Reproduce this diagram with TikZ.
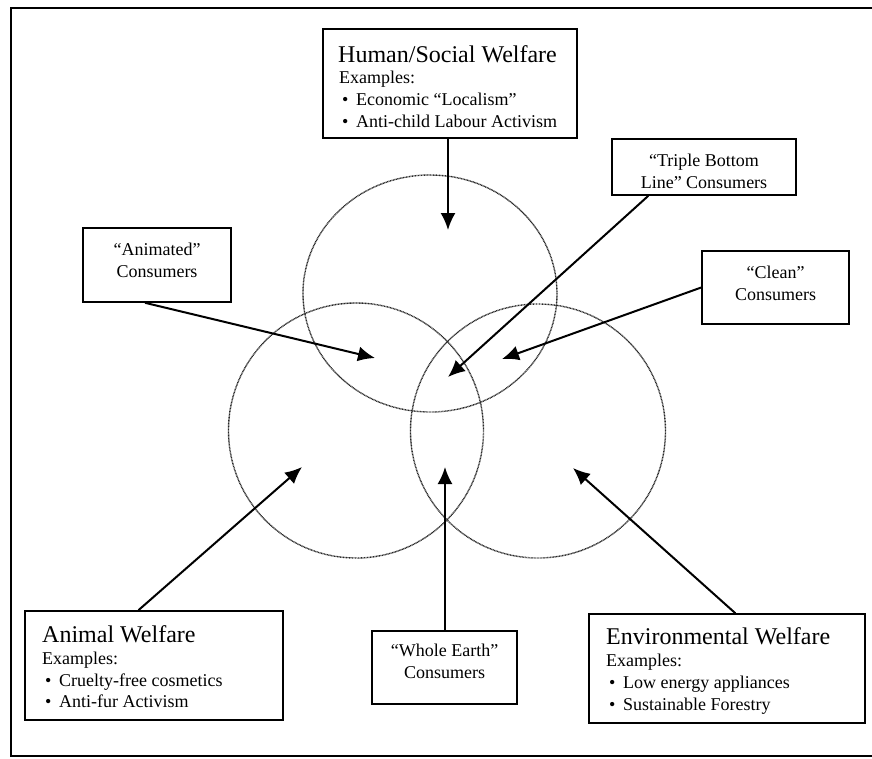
\documentclass[tikz,border=0pt]{standalone}
\usepackage{fontspec}
\setmainfont{Liberation Serif}
\usetikzlibrary{arrows.meta,calc}
\begin{document}
\begin{tikzpicture}[x=1pt,y=-1pt,
  frame/.style={line width=2pt},
  wbox/.style={draw,line width=1.6pt,inner sep=0pt},
  title/.style={anchor=base west,inner sep=0pt,font=\fontsize{24}{28}\selectfont},
  exl/.style={anchor=base west,inner sep=0pt,font=\fontsize{18}{22}\selectfont},
  ctext/.style={align=center,inner sep=0pt,font=\fontsize{18}{22}\selectfont},
  circ/.style={draw=black!85,line width=1.4pt,dash pattern=on 0.9pt off 0.6pt},
  arr/.style={line width=2pt,-{Latex[length=17pt,width=15pt]}}]
\useasboundingbox (0,0) rectangle (872,758);
% outer frame (right side cut off)
\draw[frame] (872,8) -- (11,8) -- (11,756) -- (872,756);

% circles
\draw[circ] (430,293.5) ellipse [x radius=127pt, y radius=118.5pt];
\draw[circ] (356,430.5) ellipse [x radius=127.5pt, y radius=127.5pt];
\draw[circ] (538,431) ellipse [x radius=127.5pt, y radius=127pt];

% welfare boxes
\node[wbox,minimum width=254pt,minimum height=109pt] (hs) at (450,83.5) {};
\node[title] (hsT) at (338,62) {Human/Social Welfare};
\node[exl] (hsE) at (339,83) {Examples:};
\node[exl] (hs1) at (342,105) {\makebox[14pt][l]{•}Economic “Localism”};
\node[exl] (hs2) at (342,127) {\makebox[14pt][l]{•}Anti-child Labour Activism};

\node[wbox,minimum width=258pt,minimum height=109pt] (aw) at (154,665.5) {};
\node[title] (awT) at (42,642) {Animal Welfare};
\node[exl] (awE) at (42,664) {Examples:};
\node[exl] (aw1) at (45,686) {\makebox[14pt][l]{•}Cruelty-free cosmetics};
\node[exl] (aw2) at (45,707) {\makebox[14pt][l]{•}Anti-fur Activism};

\node[wbox,minimum width=276pt,minimum height=109pt] (ew) at (727,668.5) {};
\node[title] (ewT) at (606,644) {Environmental Welfare};
\node[exl] (ewE) at (606,666) {Examples:};
\node[exl] (ew1) at (609,688) {\makebox[14pt][l]{•}Low energy appliances};
\node[exl] (ew2) at (609,710) {\makebox[14pt][l]{•}Sustainable Forestry};

% consumer boxes
\node[wbox,minimum width=184pt,minimum height=56pt] (tb) at (704,167) {};
\node[ctext] (tbt) at (704,171) {“Triple Bottom\\Line” Consumers};
\node[wbox,minimum width=147pt,minimum height=73pt] (cl) at (775.5,287.5) {};
\node[ctext] (clt) at (775.5,283) {“Clean”\\Consumers};
\node[wbox,minimum width=148pt,minimum height=74pt] (an) at (157,265) {};
\node[ctext] (ant) at (157,260) {“Animated”\\Consumers};
\node[wbox,minimum width=145pt,minimum height=73pt] (we) at (444.5,667.5) {};
\node[ctext] (wet) at (444.5,661) {“Whole Earth”\\Consumers};

% arrow tips
\coordinate (tH) at (448,230);
\coordinate (tT) at (448,377);
\coordinate (tC) at (502,359);
\coordinate (tA) at (375,358);
\coordinate (tAW) at (302,467);
\coordinate (tW) at (445,467);
\coordinate (tE) at (573,468);

% arrows
\draw[arr] (hs.south -| tH) -- (tH);
\draw[arr] ($(tb.south west)!0.2!(tb.south east)$) -- (tT);
\draw[arr] (cl.west) -- (tC);
\draw[arr] ($(an.south west)!0.42!(an.south east)$) -- (tA);
\draw[arr] ($(aw.north west)!0.44!(aw.north east)$) -- (tAW);
\draw[arr] (we.north -| tW) -- (tW);
\draw[arr] ($(ew.north west)!0.53!(ew.north east)$) -- (tE);
\end{tikzpicture}
\end{document}
